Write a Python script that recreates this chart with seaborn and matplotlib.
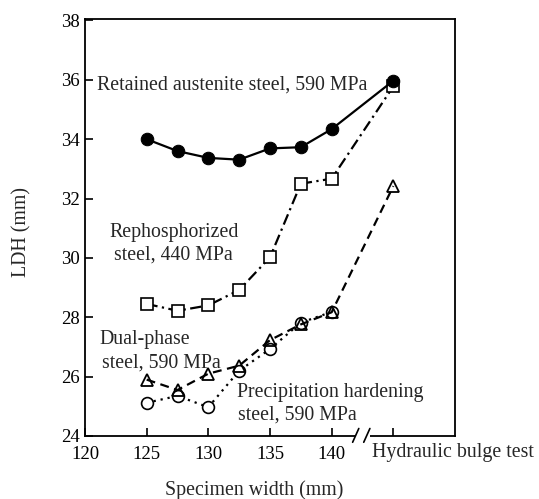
import matplotlib
matplotlib.use("Agg")
import matplotlib.pyplot as plt
import matplotlib.transforms as mtransforms
import seaborn as sns
import pandas as pd

# ---- data ----
x_pos = [125, 127.5, 130, 132.5, 135, 137.5, 140, 145]   # 145 = hydraulic bulge test
retained = [34.0, 33.6, 33.37, 33.31, 33.69, 33.73, 34.34, 35.97]
rephos = [28.45, 28.22, 28.4, 28.92, 30.02, 32.5, 32.67, 35.78]
dualphase = [25.9, 25.55, 26.1, 26.37, 27.23, 27.76, 28.17, 32.42]
precip = [25.12, 25.35, 24.97, 26.2, 26.93, 27.82, 28.18]
x_ticks = [120, 125, 130, 135, 140]
y_ticks = [24, 26, 28, 30, 32, 34, 36, 38]

sns.set_style("ticks")
plt.rcParams['font.family'] = ['Liberation Serif', 'DejaVu Serif']

fig = plt.figure(figsize=(5.39, 4.99), dpi=100)
ax = fig.add_axes([85/539, 1 - 436/499, 370/539, 417/499])

df_r = pd.DataFrame({"x": x_pos, "y": retained})
df_p = pd.DataFrame({"x": x_pos, "y": rephos})
df_d = pd.DataFrame({"x": x_pos, "y": dualphase})
df_h = pd.DataFrame({"x": x_pos[:len(precip)], "y": precip})

lw = 1.6
sns.lineplot(data=df_h, x="x", y="y", ax=ax, color="black", linestyle=(0, (1, 2.2)),
             lw=lw, marker="o", markersize=8.5, markerfacecolor="white",
             markeredgecolor="black", markeredgewidth=1.2, errorbar=None, zorder=3)
sns.lineplot(data=df_d, x="x", y="y", ax=ax, color="black", linestyle=(0, (4, 2.5)),
             lw=lw, marker="^", markersize=9, markerfacecolor="none",
             markeredgecolor="black", markeredgewidth=1.3, errorbar=None, zorder=4)
sns.lineplot(data=df_p, x="x", y="y", ax=ax, color="black", linestyle=(0, (5, 2, 1, 2)),
             lw=lw, marker="s", markersize=8, markerfacecolor="white",
             markeredgecolor="black", markeredgewidth=1.2, errorbar=None, zorder=5)
sns.lineplot(data=df_r, x="x", y="y", ax=ax, color="black", linestyle="-",
             lw=lw, marker="o", markersize=9, markerfacecolor="black",
             markeredgecolor="black", errorbar=None, zorder=6)

ax.set_xlim(120, 150)
ax.set_ylim(24, 38.05)
ax.set_xticks(x_ticks + [145])
ax.set_xticklabels([str(t) for t in x_ticks] + [""])
ax.set_yticks(y_ticks)
ax.set_yticklabels([str(t) for t in y_ticks])
ax.tick_params(direction="in", length=6, width=1.2, labelsize=13.5, colors="black")
ax.tick_params(axis="x", pad=7)
ax.tick_params(axis="y", pad=4)
for s in ax.spines.values():
    s.set_linewidth(1.3)
    s.set_color("black")
ax.set_xlabel("")
ax.set_ylabel("")

# axis break on the x axis
trans = mtransforms.blended_transform_factory(ax.transData, ax.transAxes)
ax.add_patch(plt.Rectangle((141.9, -0.01), 1.2, 0.02, transform=trans,
                           facecolor="white", edgecolor="none", clip_on=False, zorder=10))
for xb in (141.7, 142.6):
    ax.plot([xb, xb + 0.5], [-0.015, 0.018], transform=trans, color="black",
            lw=1.2, clip_on=False, zorder=11)

# annotations
fs = 14.3
ax.text(121.0, 35.83, "Retained austenite steel, 590 MPa", fontsize=fs,
        ha="left", va="center")
ax.text(127.2, 30.85, "Rephosphorized", fontsize=fs, ha="center", va="center")
ax.text(127.2, 30.1, "steel, 440 MPa", fontsize=fs, ha="center", va="center")
ax.text(121.2, 27.25, "Dual-phase", fontsize=fs, ha="left", va="center")
ax.text(121.4, 26.45, "steel, 590 MPa", fontsize=fs, ha="left", va="center")
ax.text(132.3, 25.45, "Precipitation hardening", fontsize=fs, ha="left", va="center")
ax.text(132.4, 24.7, "steel, 590 MPa", fontsize=fs, ha="left", va="center")

fig.text(372/539, 1 - 452/499, "Hydraulic bulge test", fontsize=fs, ha="left", va="center")
fig.text(254/539, 1 - 490/499, "Specimen width (mm)", fontsize=fs, ha="center", va="center")
fig.text(22/539, 1 - 232/499, "LDH (mm)", fontsize=fs, ha="center", va="center", rotation=90)

fig.savefig("out.png", dpi=100, facecolor="white")
